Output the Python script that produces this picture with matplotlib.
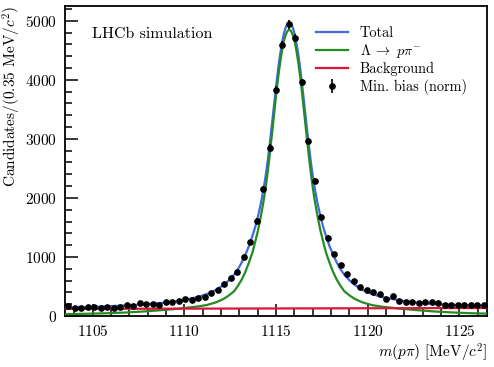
import numpy as np
import matplotlib
matplotlib.use("Agg")
import matplotlib.pyplot as plt
from matplotlib.legend import Legend

plt.rcParams['font.family'] = 'serif'
plt.rcParams['font.serif'] = ['cmr10']
plt.rcParams['mathtext.fontset'] = 'cm'
plt.rcParams['axes.formatter.use_mathtext'] = True

# ---- data: histogram (65 bins) ----
bin_lo, bin_hi, n_bins = 1103.5, 1126.5, 65
counts = [170, 130, 141, 147, 150, 136, 147, 141, 150, 178, 170, 218, 200, 200, 190,
          240, 240, 257, 285,
          271, 310, 330, 392, 436, 537, 641, 738, 992, 1259, 1612,
          2148, 2853, 3826, 4582, 4938, 4701, 3955, 2966, 2283,
          1670, 1327, 1046, 860, 707, 595, 495, 435, 398, 378, 294,
          344, 262, 235, 230, 220, 232, 236, 220, 192, 184, 180, 190, 186, 180, 192]

# ---- fit curves, read at distances from the peak position ----
peak_pos = 1115.72
dist = [0.0, 0.1, 0.2, 0.3, 0.4, 0.5, 0.6, 0.7, 0.8, 0.9, 1.0, 1.1, 1.2, 1.3, 1.4,
        1.55, 1.7, 1.85, 2.0, 2.2, 2.4, 2.6, 2.8, 3.0, 3.3, 3.6, 4.0, 4.5, 5.0,
        6.0, 7.0, 8.0, 9.0, 10.0, 10.78, 11.0, 12.22]
total_left = [4975, 4950, 4880, 4770, 4610, 4420, 4190, 3930, 3650, 3360, 3080, 2810, 2560, 2340, 2150,
              1900, 1690, 1510, 1360, 1180, 1030, 900, 790, 700, 600, 520, 440, 370, 320,
              255, 220, 195, 178, 163, 155, 152, 142]
total_right = [4975, 4950, 4880, 4770, 4610, 4420, 4190, 3930, 3650, 3360, 3080, 2810, 2560, 2340, 2150,
               1900, 1690, 1510, 1360, 1180, 1030, 900, 790, 700, 600, 520, 440, 375, 325,
               265, 225, 200, 188, 180, 176]
sig_left = [4850, 4825, 4755, 4645, 4480, 4280, 4045, 3780, 3490, 3195, 2910, 2630, 2370, 2140, 1940,
            1680, 1450, 1260, 1080, 900, 740, 610, 510, 420, 345, 285, 230, 185, 160,
            125, 98, 75, 58, 46, 40, 38, 30]
sig_right = [4850, 4825, 4755, 4645, 4480, 4280, 4045, 3780, 3490, 3195, 2910, 2630, 2370, 2140, 1940,
             1680, 1450, 1260, 1080, 900, 740, 610, 510, 420, 345, 285, 230, 185, 160,
             125, 98, 75, 58, 46, 40]

bkg_x = [1103.5, 1126.5]
bkg_y = [120, 135]

legend_labels = ['Total', r'$\mathit{\Lambda}\;\rightarrow\;p\pi^{-}$', 'Background', 'Min. bias (norm)']

edges = np.linspace(bin_lo, bin_hi, n_bins + 1)
centers = 0.5 * (edges[:-1] + edges[1:])
counts = np.array(counts, dtype=float)
errors = np.sqrt(counts)


def curve(left, right):
    dl = np.array(dist[:len(left)])
    dr = np.array(dist[:len(right)])
    x = np.concatenate([(peak_pos - dl)[::-1], (peak_pos + dr)[1:]])
    y = np.concatenate([np.array(left)[::-1], np.array(right)[1:]])
    keep = (x >= bin_lo - 1e-9) & (x <= bin_hi + 1e-9)
    return x[keep], y[keep]


tx, ty = curve(total_left, total_right)
sx, sy = curve(sig_left, sig_right)

fig = plt.figure(figsize=(4.94, 3.67), dpi=100)
ax = fig.add_axes([0.1316, 0.139, 0.8542, 0.8447])

h_tot, = ax.plot(tx, ty, color='#4169e1', lw=1.6, zorder=3)
h_sig, = ax.plot(sx, sy, color='#228b22', lw=1.6, zorder=3)
h_bkg, = ax.plot(bkg_x, bkg_y, color='#dc143c', lw=1.6, zorder=3)
h_dat = ax.errorbar(centers, counts, yerr=errors, fmt='o', color='black', ms=3.8, elinewidth=1.2,
                    capsize=0, zorder=4)

ax.set_xlim(bin_lo, bin_hi)
ax.set_ylim(0, 5250)
ax.set_xticks([1105, 1110, 1115, 1120, 1125])
ax.set_xticks(np.arange(1104, 1127, 1), minor=True)
ax.set_yticks([0, 1000, 2000, 3000, 4000, 5000])
ax.set_yticks(np.arange(0, 5250, 200), minor=True)
ax.tick_params(which='both', direction='in', top=False, right=False, labelsize=11, width=1.1)
ax.tick_params(which='major', length=9, pad=6)
ax.tick_params(which='minor', length=5)
for s in ax.spines.values():
    s.set_linewidth(1.3)

ax.set_xlabel(r'$m(p\pi)$ [MeV/$c^2$]', fontsize=11, loc='right', labelpad=2)
ax.set_ylabel(r'Candidates/(0.35 MeV/$c^2$)', fontsize=11, loc='top', labelpad=1)

ax.text(0.065, 0.91, 'LHCb simulation', transform=ax.transAxes, fontsize=11.5, va='center', ha='left')

# legend: one row per entry, evenly spaced
row_y = [0.913, 0.855, 0.797, 0.739]
for h, lab, yy in zip([h_tot, h_sig, h_bkg, h_dat], legend_labels, row_y):
    lg = Legend(ax, [h], [lab], loc='center left', bbox_to_anchor=(0.5948, yy), frameon=False,
                fontsize=10.3, handlelength=2.25, handletextpad=0.8, borderaxespad=0,
                borderpad=0)
    ax.add_artist(lg)

fig.savefig('out.png', dpi=100)
